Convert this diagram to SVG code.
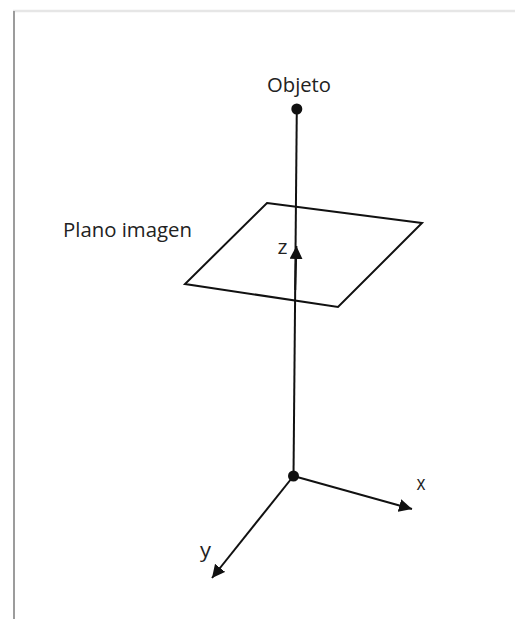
<svg xmlns="http://www.w3.org/2000/svg" width="515" height="619" viewBox="0 0 515 619">
<style>
.ln{stroke:#111;stroke-width:2;fill:none}
.lbl{font-family:"Open Sans","Noto Sans",sans-serif;font-size:20px;fill:#222}
</style>
<defs>
<marker id="ah" markerUnits="userSpaceOnUse" markerWidth="14" markerHeight="14" refX="13" refY="6.5" orient="auto">
<path d="M0,0 L13,6.5 L0,13 z" fill="#111"/>
</marker>
<filter id="sh" x="-5" y="-0.1" width="10" height="1.2"><feGaussianBlur stdDeviation="1.2"/></filter>
</defs>
<rect width="515" height="619" fill="#fff"/>
<g id="frame">
<line x1="13" y1="11" x2="515" y2="11" stroke="#e6e6e6" stroke-width="2.5"/>
<line x1="16" y1="12" x2="16" y2="619" stroke="#c8c8c8" stroke-width="3" filter="url(#sh)"/>
<line x1="14" y1="11" x2="14" y2="619" stroke="#9c9c9c" stroke-width="2"/>
</g>
<g id="connectors">
<line class="ln" x1="293.5" y1="476" x2="296.8" y2="109"/>
<line class="ln" x1="295.2" y1="290" x2="296.4" y2="246" marker-end="url(#ah)"/>
<line class="ln" x1="293.5" y1="476" x2="412" y2="509" marker-end="url(#ah)"/>
<line class="ln" x1="293.5" y1="476" x2="212" y2="578" marker-end="url(#ah)"/>
</g>
<g id="plano">
<polygon class="ln" points="267,203 422,223 338,307 185,284"/>
<text class="lbl" x="63" y="237" textLength="129" lengthAdjust="spacingAndGlyphs">Plano imagen</text>
</g>
<g id="objeto">
<circle cx="296.8" cy="109" r="5.5" fill="#111"/>
<text class="lbl" x="267" y="92" textLength="64" lengthAdjust="spacingAndGlyphs">Objeto</text>
</g>
<g id="origen">
<circle cx="293.5" cy="476" r="5.5" fill="#111"/>
</g>
<g id="z"><text class="lbl" x="277.5" y="254" textLength="10" lengthAdjust="spacingAndGlyphs">z</text></g>
<g id="x"><text class="lbl" x="416.5" y="490" textLength="9" lengthAdjust="spacingAndGlyphs">x</text></g>
<g id="y"><text class="lbl" x="200" y="557" textLength="11" lengthAdjust="spacingAndGlyphs">y</text></g>
</svg>
